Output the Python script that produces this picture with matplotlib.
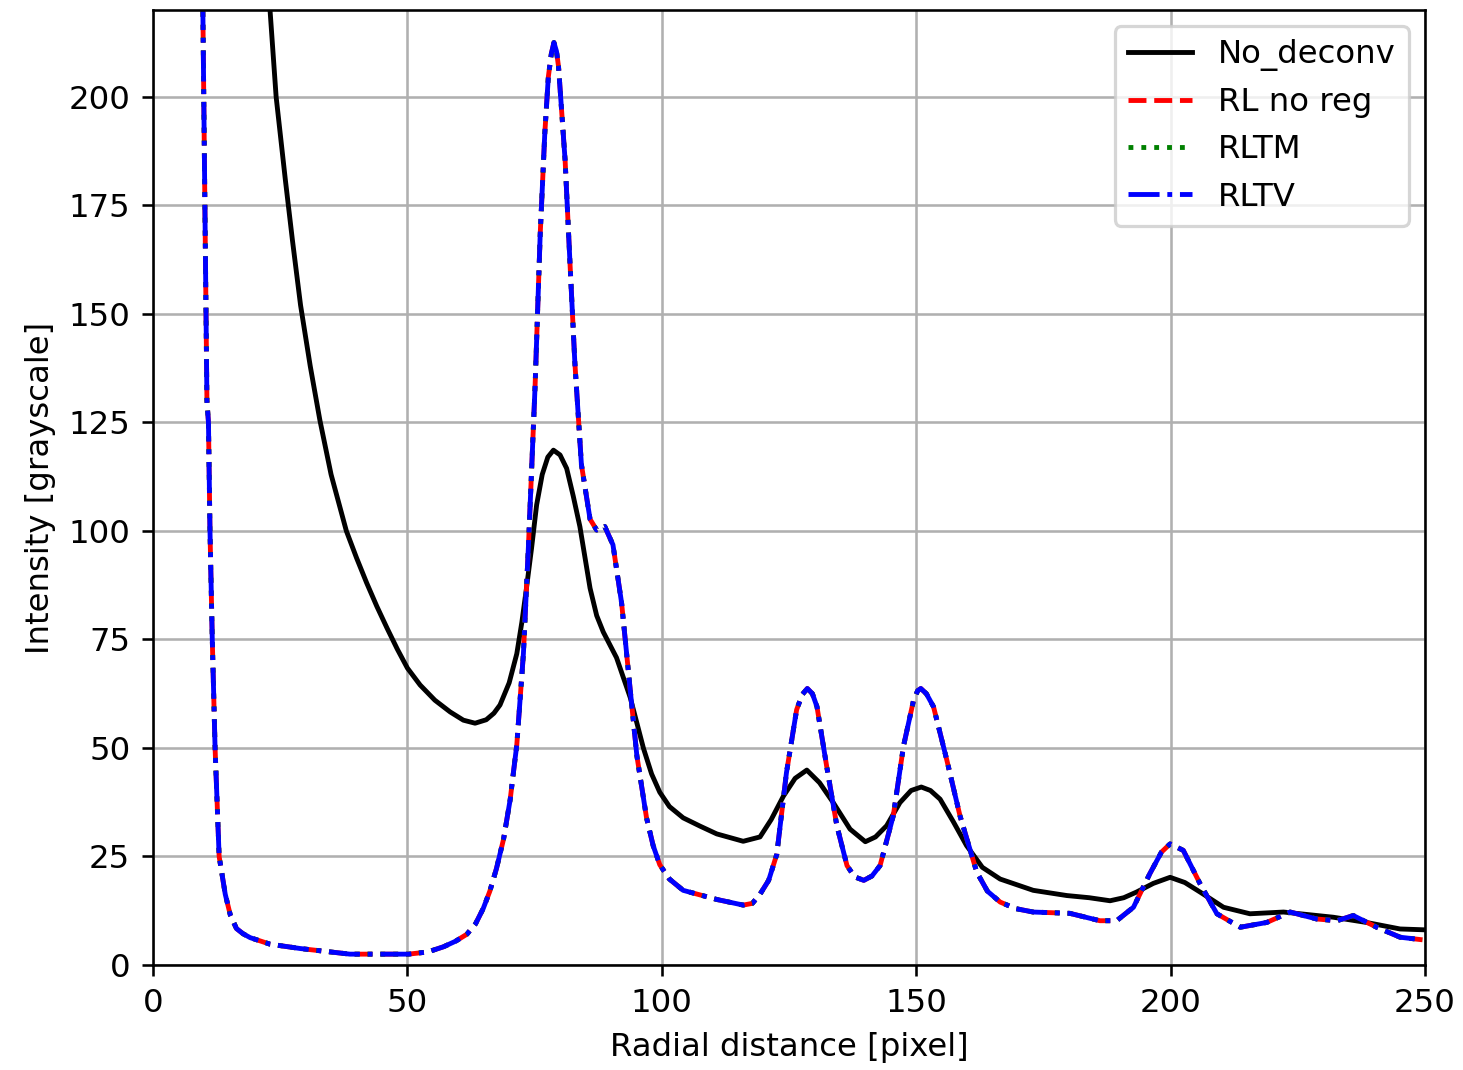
import matplotlib
matplotlib.use('Agg')
import matplotlib.pyplot as plt

# No deconvolution profile
x_raw = [18, 20, 23.0, 24.2, 26.0, 27.4, 29.0, 30.9, 32.8, 35.0, 38.0, 40.0,
         42.0, 44.0, 46.0, 48.0, 50.0, 52.5, 55.4, 58.4, 61.0, 63.3, 65.5,
         67.0, 68.2, 70.0, 71.5, 72.5, 73.4, 74.4, 75.4, 76.5, 77.6, 78.7,
         80.0, 81.3, 82.6, 83.9, 85.9, 87.2, 88.5, 91.1, 93.8, 96.4, 98.0,
         99.6, 101.5, 104.2, 107.5, 110.8, 116.0, 119.3, 121.5, 123.9, 126.2,
         128.5, 131.0, 133.7, 137.0, 140.0, 142.0, 144.2, 146.8, 149.0, 151.0,
         152.8, 154.7, 157.3, 159.9, 163.0, 166.5, 173.0, 179.6, 184.0, 188.1,
         190.8, 193.3, 196.6, 199.9, 202.8, 205.8, 210.4, 215.6, 222.2, 232.0,
         238.5, 245.1, 250]
y_raw = [300, 265, 220, 200, 181, 167, 152, 138, 125.5, 113, 100, 93.8,
         88.0, 82.6, 77.6, 72.8, 68.4, 64.5, 61.0, 58.3, 56.4, 55.7, 56.5,
         58.0, 59.9, 65.0, 71.7, 79.0, 86.8, 96.0, 106, 113, 117, 118.6,
         117.5, 114.4, 108, 101, 86.8, 80.5, 76.7, 70.8, 61.6, 49.9, 44.0,
         39.8, 36.5, 33.9, 32.0, 30.2, 28.5, 29.5, 33.5, 38.9, 43.0,
         44.9, 42.0, 37.4, 31.3, 28.4, 29.5, 32.1, 37.4, 40.2, 41.0,
         40.2, 38.2, 33.0, 27.5, 22.5, 19.8, 17.2, 16.0, 15.5, 14.8,
         15.5, 16.8, 18.8, 20.2, 19.0, 16.8, 13.3, 11.8, 12.2, 11.0,
         9.8, 8.3, 8.1]

# Richardson-Lucy results (the three curves overlap)
x_rl = [9.0, 9.8, 10.6, 10.9, 11.2, 11.65, 12.2, 13.0, 14.2, 15.2, 16.4, 17.7,
        19.1, 23.0, 28.9, 38.7, 50.2, 54.0, 57.1, 59.5, 61.7, 63.4, 64.9, 66.2,
        67.5, 68.9, 70.2, 70.8, 71.5, 72.8, 73.8, 75.1, 76.1, 77.0, 77.7, 78.3,
        78.8, 79.3, 79.7, 81.0, 82.0, 82.9, 84.2, 85.9, 87.2, 88.8, 90.4,
        92.1, 93.8, 95.1, 97.0, 98.3, 99.6, 101.5, 104.2, 110.8, 116.0, 117.8,
        119.3, 121.0, 122.6, 124.5, 126.5, 127.6, 128.6, 129.6, 130.5, 132.4,
        134.4, 136.4, 137.9, 139.7, 141.3, 142.9, 145.5, 147.5, 149.5, 150.3,
        150.9, 152.0, 153.4, 156.0, 158.6, 161.9, 164.0, 166.5, 169.5, 173.0,
        180.2, 186.1, 189.4, 192.7, 195.9, 198.2, 199.9, 202.5, 205.8, 209.1,
        213.7, 218.9, 223.5, 228.7, 232.7, 235.9, 240.5, 245.1, 249.5]
y_rl = [320, 220, 130, 125, 100, 75, 50, 25, 16.3, 11.5, 8.4, 7.2,
        6.3, 4.8, 3.8, 2.5, 2.5, 3.0, 4.2, 5.5, 7.1, 9.5, 13.0, 17.0,
        22.2, 29.0, 38.1, 44.0, 50.7, 71.7, 96.8, 133.5, 168.3, 191.5, 204.6, 210.0,
        212.5, 210.5, 207, 185.3, 160.6, 139, 115.3, 102.7, 100.2, 101, 96.8,
        83.4, 63.3, 48.2, 33.9, 27.5, 23.1, 19.8, 17.2, 15.1, 13.8, 14.2,
        16.3, 19.5, 25.5, 44.3, 58.8, 62.3, 63.7, 62.5, 59.5, 45.8,
        32.1, 22.9, 20.3, 19.5, 20.5, 22.9, 34.4, 50.4, 61.1, 63.2,
        63.7, 62.5, 59.5, 47.3, 34.4, 21.4, 17.0, 14.5, 13.0, 12.2,
        11.9, 10.2, 10.2, 13.3, 21.0, 26.0, 27.9, 26.4, 18.7, 11.8,
        8.7, 9.8, 12.2, 10.6, 10.2, 11.4, 8.7, 6.4, 5.8]
y_rltm = y_rl
y_rltv = y_rl

fig = plt.figure(figsize=(1463 / 233, 1070 / 233), dpi=233)
ax = fig.add_axes([153 / 1463, 105 / 1070, (1425 - 153) / 1463, (965 - 10) / 1070])

ax.plot(x_raw, y_raw, color='black', linestyle='-', label='No_deconv')
ax.plot(x_rl, y_rl, color='red', linestyle='--', label='RL no reg')
ax.plot(x_rl, y_rltm, color='green', linestyle=':', label='RLTM')
ax.plot(x_rl, y_rltv, color='blue', linestyle='-.', label='RLTV')

ax.set_xlim(0, 250)
ax.set_ylim(0, 220)
ax.set_xlabel('Radial distance [pixel]')
ax.set_ylabel('Intensity [grayscale]')
ax.grid(True)
ax.legend(loc='upper right')

plt.savefig('out.png', dpi=233)
